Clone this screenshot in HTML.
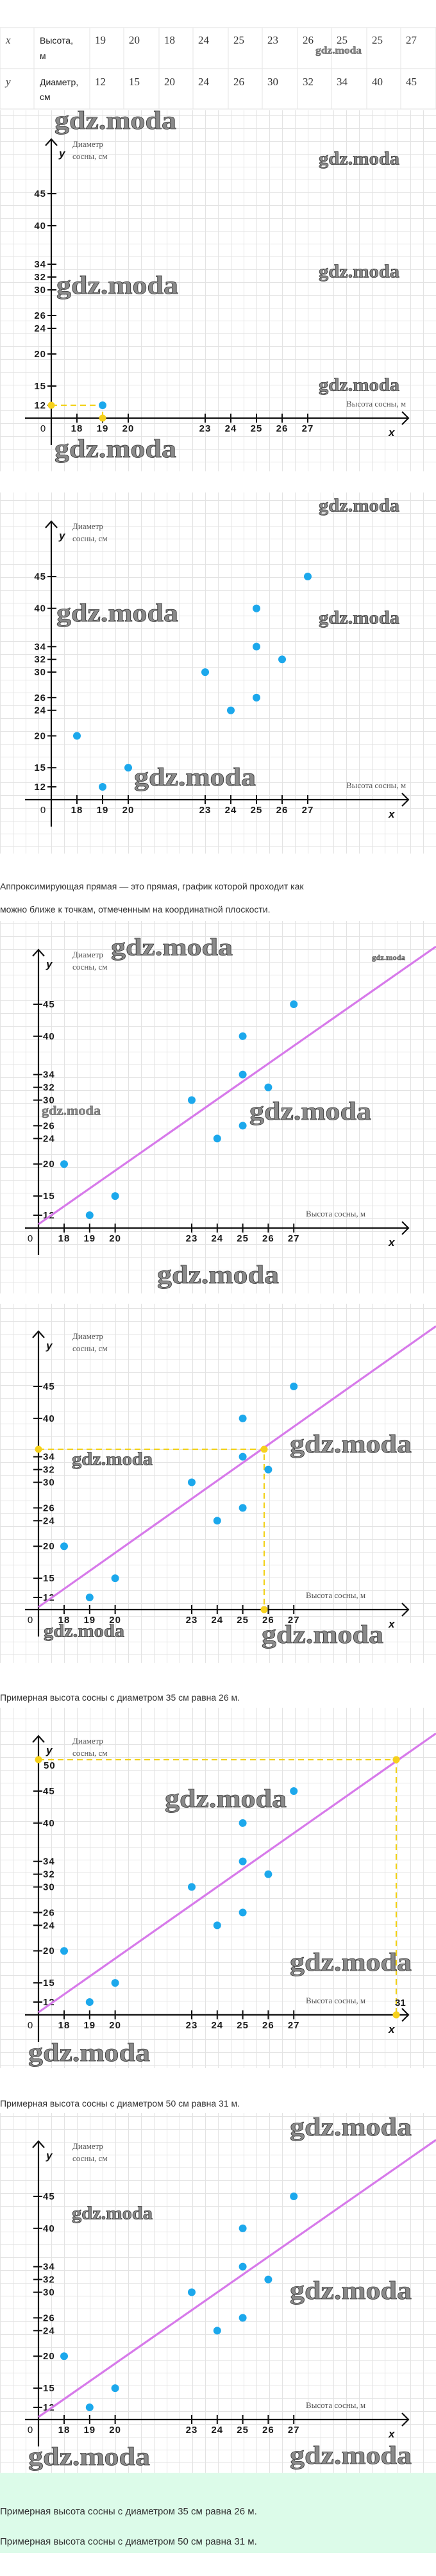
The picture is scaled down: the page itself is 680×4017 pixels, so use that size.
<!DOCTYPE html>
<html><head><meta charset="utf-8">
<style>
html,body{margin:0;padding:0;background:#fff;}
body{width:680px;height:4017px;position:relative;overflow:hidden;font-family:"Liberation Sans",sans-serif;}
svg{position:absolute;left:0;top:0;}
</style></head>
<body>
<svg id="s" width="680" height="4017" viewBox="0 0 680 4017" xmlns="http://www.w3.org/2000/svg">
<defs>
<pattern id="g" width="20" height="20" patternUnits="userSpaceOnUse" x="0" y="0">
<path d="M0 0.5H20M0.5 0V20" stroke="#e3e3e3" stroke-width="1" fill="none"/>
</pattern>
</defs>
</svg>
<script>
var S=document.getElementById('s'),NS='http://www.w3.org/2000/svg';
function el(t,a,txt){var e=document.createElementNS(NS,t);for(var k in a)e.setAttribute(k,a[k]);if(txt!=null)e.textContent=txt;S.appendChild(e);return e;}
function wm(x,y,fs,w){el('text',{x:x,y:y,'font-family':'Liberation Serif, serif','font-weight':'bold','font-size':fs,fill:'#8a8a8a',stroke:'#3a3a3a','stroke-width':fs>24?0.8:0.4,textLength:w,lengthAdjust:'spacingAndGlyphs','dominant-baseline':'middle'},'gdz.moda');}
function txt(x,y,s,o){var a={x:x,y:y,'font-size':14,fill:'#222','font-family':'Liberation Sans, sans-serif'};for(var k in o)a[k]=o[k];return el('text',a,s);}

// table
var cols=[0,53,140,193,248,301,356,409,464,517,572,625,680];
el('rect',{x:0,y:43,width:680,height:127,fill:'#fff',stroke:'#e2e2e2'});
el('line',{x1:0,y1:107,x2:680,y2:107,stroke:'#e2e2e2'});
for(var i=1;i<12;i++)el('line',{x1:cols[i],y1:43,x2:cols[i],y2:170,stroke:'#e6e6e6'});
var xs=[19,20,18,24,25,23,26,25,25,27],ys=[12,15,20,24,26,30,32,34,40,45];
txt(9,68,'x',{'font-family':'Liberation Serif, serif','font-style':'italic','font-size':17,fill:'#444'});
txt(9,133,'y',{'font-family':'Liberation Serif, serif','font-style':'italic','font-size':17,fill:'#444'});
txt(62,68,'Высота,',{'font-size':14});txt(62,92,'м',{'font-size':14});
txt(62,133,'Диаметр,',{'font-size':14});txt(62,156,'см',{'font-size':14});
for(i=0;i<10;i++){txt(cols[i+2]+8,68,xs[i],{'font-family':'Liberation Serif, serif','font-size':17,fill:'#333'});txt(cols[i+2]+8,133,ys[i],{'font-family':'Liberation Serif, serif','font-size':17,fill:'#333'});}
wm(492,80,16,72);

function chart(c){
  el('rect',{x:0,y:c.top,width:680,height:c.bot-c.top,fill:'url(#g)'});
  var ax=c.ax,x18=ax+40,u=c.u,k=(c.y12-c.y45)/33;
  function X(v){return x18+(v-18)*u;}
  function Y(v){return c.y12-(v-12)*k;}
  // axes
  el('line',{x1:ax,y1:c.at,x2:ax,y2:c.xa+42,stroke:'#111','stroke-width':2.2});
  el('path',{d:'M'+(ax-9)+' '+(c.at+10)+'L'+ax+' '+c.at+'L'+(ax+9)+' '+(c.at+10),stroke:'#111','stroke-width':2.2,fill:'none'});
  el('line',{x1:39,y1:c.xa,x2:637,y2:c.xa,stroke:'#111','stroke-width':2.2});
  el('path',{d:'M627 '+(c.xa-10)+'L637 '+c.xa+'L627 '+(c.xa+10),stroke:'#111','stroke-width':2.2,fill:'none'});
  var xt=[18,19,20,23,24,25,26,27];
  xt.forEach(function(v){el('line',{x1:X(v),y1:c.xa-7,x2:X(v),y2:c.xa+7,stroke:'#111','stroke-width':2});
    txt(X(v),c.xa+21,v,{'text-anchor':'middle','font-size':15,'font-weight':'bold',fill:'#1a1a1a','letter-spacing':'1'});});
  txt(c.ax-13,c.xa+21,'0',{'text-anchor':'middle','font-size':15,fill:'#1a1a1a'});
  var yt=[12,15,20,24,26,30,32,34,40,45];
  if(c.y50)yt.push(50);
  yt.forEach(function(v){
    if(c.left){el('line',{x1:ax-6,y1:Y(v),x2:ax+8,y2:Y(v),stroke:'#111','stroke-width':2});
      txt(ax-8,Y(v)+5,v,{'text-anchor':'end','font-size':15,'font-weight':'bold',fill:'#1a1a1a','letter-spacing':'1'});}
    else if(v==50){txt(ax+8,c.y50+14,'50',{'font-size':15,'font-weight':'bold',fill:'#1a1a1a','letter-spacing':'1'});}
    else{el('line',{x1:ax-8,y1:Y(v),x2:ax+6,y2:Y(v),stroke:'#111','stroke-width':2});
      txt(ax+7,Y(v)+5,v,{'font-size':15,'font-weight':'bold',fill:'#1a1a1a','letter-spacing':'1'});}
  });
  txt(113,c.at+12,'Диаметр',{'font-family':'Liberation Serif, serif','font-size':13,fill:'#555'});
  txt(113,c.at+31,'сосны, см',{'font-family':'Liberation Serif, serif','font-size':13,fill:'#555'});
  txt(ax+12,c.at+28,'y',{'font-size':17,'font-style':'italic','font-weight':'bold',fill:'#111'});
  txt(c.vx,c.xa-18,'Высота сосны, м',{'font-family':'Liberation Serif, serif','font-size':13,fill:'#555'});
  txt(606,c.xa+28,'x',{'font-size':17,'font-style':'italic','font-weight':'bold',fill:'#111'});
  if(c.line)el('line',{x1:c.line[0],y1:c.line[1],x2:680,y2:c.line[2],stroke:'#d77aea','stroke-width':3.2});
  if(c.yl){var yy=c.yl[0],xx=c.yl[1];
    el('path',{d:'M'+ax+' '+yy+'H'+xx+'V'+c.xa,stroke:'#f2d21a','stroke-width':2.2,fill:'none','stroke-dasharray':'9 6'});
    [[ax,yy],[xx,yy],[xx,c.xa]].forEach(function(p){el('circle',{cx:p[0],cy:p[1],r:5.5,fill:'#f6d11c'});});
  }
  var pts=c.only||xs.map(function(v,i){return [v,ys[i]];});
  pts.forEach(function(p){el('circle',{cx:X(p[0]),cy:Y(p[1]),r:6,fill:'#1ca8ec'});});
  (c.wms||[]).forEach(function(w){wm(w[0],w[1],w[2],w[3]);});
}
// chart 1
chart({top:172,bot:735,ax:80,u:40,xa:652,y12:632,y45:302,at:217,left:1,vx:540,only:[[19,12]],
  yl:[632,160],wms:[[85,192,40,190],[497,250,28,126],[88,449,40,190],[497,426,28,126],[497,603,28,126],[85,704,40,190]]});
// chart 2
chart({top:768,bot:1331,ax:80,u:40,xa:1247,y12:1227,y45:899,at:813,left:1,vx:540,
  wms:[[497,791,28,126],[88,960,40,190],[497,966,28,126],[209,1216,40,190]]});
// text
txt(0,1387,'Аппроксимирующая прямая — это прямая, график которой проходит как',{'font-size':14,fill:'#333'});
txt(0,1423,'можно ближе к точкам, отмеченным на координатной плоскости.',{'font-size':14,fill:'#333'});
// chart 3
chart({top:1436,bot:2017,ax:60,u:39.8,xa:1915,y12:1895,y45:1566,at:1481,vx:477,line:[60,1909,1476],
  wms:[[173,1481,38,190],[580,1494,12,52],[65,1734,20,92],[389,1737,40,190],[245,1992,40,190]]});
// chart 4
chart({top:2033,bot:2593,ax:60,u:39.8,xa:2510,y12:2491,y45:2162,at:2076,vx:477,line:[60,2506,2068],
  yl:[2260,412],wms:[[112,2278,28,126],[452,2256,40,190],[68,2546,28,126],[408,2553,40,190]]});
txt(0,2652,'Примерная высота сосны с диаметром 35 см равна 26 м.',{'font-size':14,fill:'#333'});
// chart 5
chart({top:2663,bot:3225,ax:60,u:39.8,xa:3142,y12:3122,y45:2793,at:2707,vx:477,line:[60,3138,2703],
  y50:2744,yl:[2744,618],wms:[[257,2809,40,190],[452,3064,40,190],[44,3205,40,190]]});
txt(616,3128,'31',{'font-size':15,'font-weight':'bold',fill:'#1a1a1a'});
txt(0,3285,'Примерная высота сосны с диаметром 50 см равна 31 м.',{'font-size':14,fill:'#333'});
// chart 6
chart({top:3295,bot:3856,ax:60,u:39.8,xa:3773,y12:3754,y45:3425,at:3339,vx:477,line:[60,3769,3337],
  wms:[[452,3321,40,190],[112,3454,28,126],[452,3576,40,190],[44,3835,40,190],[452,3833,40,190]]});
el('rect',{x:0,y:3856,width:680,height:125,fill:'#dcfbe9'});
txt(0,3921,'Примерная высота сосны с диаметром 35 см равна 26 м.',{'font-size':15,fill:'#333'});
txt(0,3968,'Примерная высота сосны с диаметром 50 см равна 31 м.',{'font-size':15,fill:'#333'});
</script>
</body></html>
